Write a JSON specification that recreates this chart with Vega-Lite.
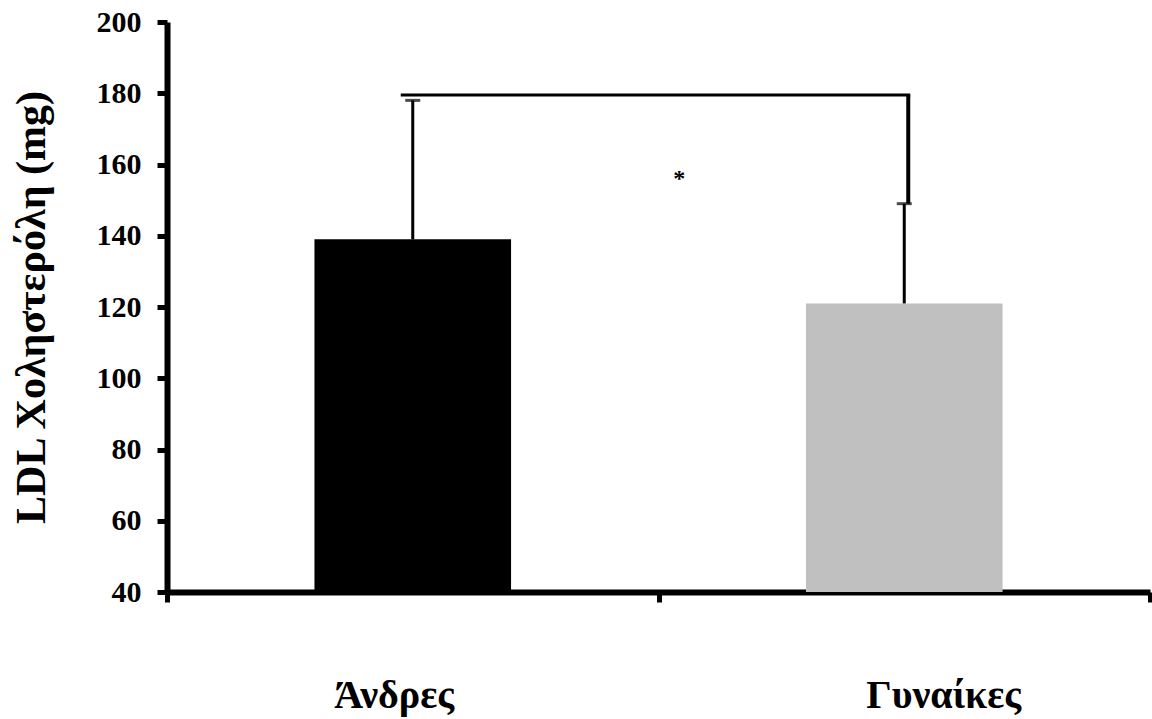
{
  "$schema": "https://vega.github.io/schema/vega-lite/v6.json",
  "width": 983,
  "height": 570,
  "autosize": {"type": "none"},
  "padding": {"left": 167, "top": 22, "right": 2, "bottom": 127},
  "background": "white",
  "config": {
    "view": {"stroke": null},
    "axis": {
      "labelFont": "Liberation Serif",
      "labelFontWeight": "bold",
      "labelColor": "black",
      "titleFont": "Liberation Serif",
      "titleFontWeight": "bold",
      "titleColor": "black",
      "domainColor": "black",
      "tickColor": "black",
      "domainWidth": 6,
      "tickWidth": 5,
      "tickSize": 10,
      "grid": false
    }
  },
  "datasets": {
    "bars": [
      {"group": "Άνδρες", "mean": 139, "upper": 178},
      {"group": "Γυναίκες", "mean": 121, "upper": 149}
    ],
    "bracket": [
      {"from": "Άνδρες", "to": "Γυναίκες", "level": 179.5, "end": 149}
    ],
    "sig": [
      {"group": "Άνδρες", "label": "*", "y": 156}
    ]
  },
  "layer": [
    {
      "data": {"name": "bars"},
      "mark": {"type": "bar", "width": {"band": 0.4}},
      "encoding": {
        "x": {
          "field": "group", "type": "nominal", "sort": null, "title": null,
          "scale": {"paddingInner": 0, "paddingOuter": 0},
          "axis": {
            "orient": "bottom",
            "labelAngle": 0,
            "labelFontSize": 40,
            "labelPadding": 73,
            "tickBand": "extent",
            "labelOffset": {"condition": {"test": "datum.value === 'Άνδρες'", "value": -19}, "value": 39}
          }
        },
        "y": {
          "field": "mean", "type": "quantitative",
          "title": "LDL Χοληστερόλη (mg)",
          "scale": {"domain": [40, 200], "nice": false, "zero": false},
          "axis": {
            "values": [40, 60, 80, 100, 120, 140, 160, 180, 200],
            "labelFontSize": 30,
            "labelPadding": 16,
            "titleFontSize": 42,
            "titlePadding": 43
          }
        },
        "y2": {"datum": 40},
        "color": {
          "field": "group", "type": "nominal",
          "scale": {"domain": ["Άνδρες", "Γυναίκες"], "range": ["#000000", "#C0C0C0"]},
          "legend": null
        }
      }
    },
    {
      "data": {"name": "bars"},
      "mark": {"type": "rule", "color": "black", "strokeWidth": 3},
      "encoding": {
        "x": {"field": "group", "type": "nominal", "sort": null, "title": null},
        "y": {"field": "mean", "type": "quantitative"},
        "y2": {"field": "upper"}
      }
    },
    {
      "data": {"name": "bars"},
      "mark": {"type": "tick", "orient": "horizontal", "color": "black", "size": 15, "thickness": 3},
      "encoding": {
        "x": {"field": "group", "type": "nominal", "sort": null, "title": null},
        "y": {"field": "upper", "type": "quantitative"}
      }
    },
    {
      "data": {"name": "bracket"},
      "mark": {"type": "rule", "color": "black", "strokeWidth": 3, "xOffset": -12, "x2Offset": 6},
      "encoding": {
        "x": {"field": "from", "type": "nominal", "sort": null, "title": null},
        "x2": {"field": "to"},
        "y": {"field": "level", "type": "quantitative"}
      }
    },
    {
      "data": {"name": "bracket"},
      "mark": {"type": "rule", "color": "black", "strokeWidth": 4, "xOffset": 4},
      "encoding": {
        "x": {"field": "to", "type": "nominal", "sort": null, "title": null},
        "y": {"field": "level", "type": "quantitative"},
        "y2": {"field": "end"}
      }
    },
    {
      "data": {"name": "sig"},
      "mark": {"type": "text", "font": "Liberation Serif", "fontWeight": "bold", "fontSize": 24, "color": "black", "baseline": "middle", "align": "center"},
      "encoding": {
        "x": {"field": "group", "type": "nominal", "sort": null, "title": null, "bandPosition": 1.042},
        "y": {"field": "y", "type": "quantitative"},
        "text": {"field": "label"}
      }
    }
  ]
}
